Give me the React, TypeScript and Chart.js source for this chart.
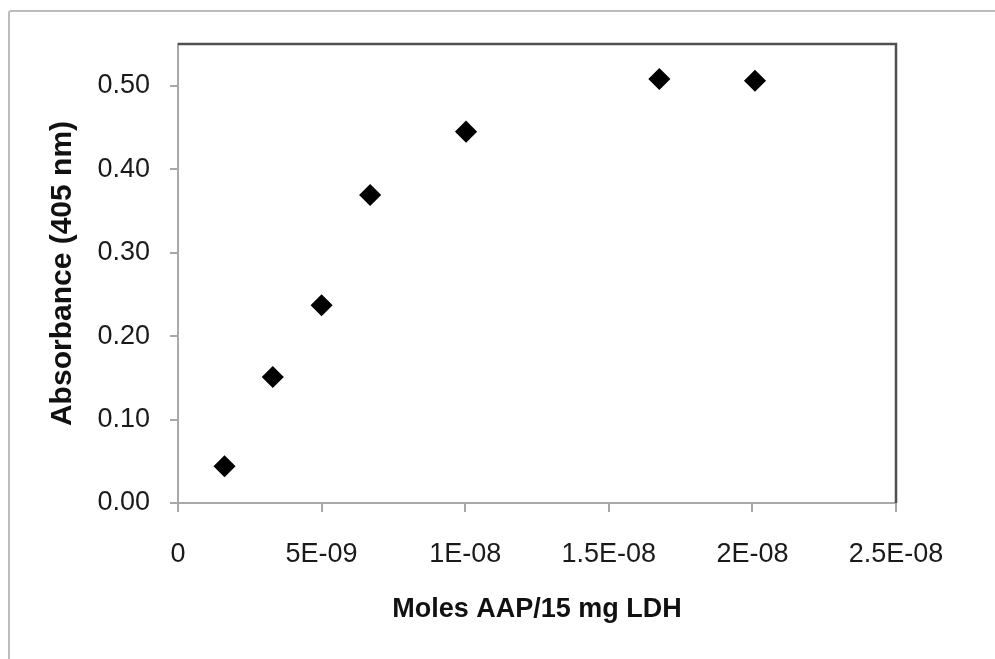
import React, { useEffect, useRef } from "react";
import { Chart, registerables } from "chart.js";

Chart.register(...registerables);

const molesAAP = [1.62e-9, 3.3e-9, 5.0e-9, 6.69e-9, 1.003e-8, 1.676e-8, 2.009e-8];
const absorbance = [0.044, 0.151, 0.237, 0.369, 0.445, 0.508, 0.506];
const xTickValues = [0, 5e-9, 1e-8, 1.5e-8, 2e-8, 2.5e-8];
const xTickLabels = ["0", "5E-09", "1E-08", "1.5E-08", "2E-08", "2.5E-08"];
const yTickValues = [0, 0.1, 0.2, 0.3, 0.4, 0.5];
const yTickLabels = ["0.00", "0.10", "0.20", "0.30", "0.40", "0.50"];

const FONT = "'Liberation Sans', Arial, Helvetica, sans-serif";

const framePlugin = {
  id: "framePlugin",
  beforeDraw(chart: any) {
    const ctx = chart.ctx;
    ctx.save();
    ctx.strokeStyle = "#bdbdbd";
    ctx.lineWidth = 2;
    ctx.beginPath();
    ctx.moveTo(9, 680);
    ctx.lineTo(9, 13);
    ctx.quadraticCurveTo(9, 11, 11, 11);
    ctx.lineTo(1000, 11);
    ctx.stroke();
    ctx.restore();
  },
  afterDraw(chart: any) {
    const { ctx, chartArea } = chart;
    ctx.save();
    ctx.strokeStyle = "#505050";
    ctx.lineWidth = 2.5;
    ctx.beginPath();
    ctx.moveTo(chartArea.left, chartArea.top);
    ctx.lineTo(chartArea.right, chartArea.top);
    ctx.lineTo(chartArea.right, chartArea.bottom);
    ctx.stroke();
    ctx.restore();
  },
};

export default function App() {
  const ref = useRef<HTMLCanvasElement>(null);

  useEffect(() => {
    if (!ref.current) return;
    const chart = new Chart(ref.current, {
      type: "scatter",
      data: {
        datasets: [
          {
            data: molesAAP.map((x, i) => ({ x, y: absorbance[i] })),
            pointStyle: "rectRot",
            pointRadius: 10,
            pointHoverRadius: 10,
            backgroundColor: "#000",
            borderColor: "#000",
            borderWidth: 1.5,
          },
        ],
      },
      options: {
        animation: false,
        responsive: false,
        devicePixelRatio: 1,
        layout: { padding: { top: 44, right: 99, left: 0, bottom: 0 } },
        plugins: { legend: { display: false }, tooltip: { enabled: false } },
        scales: {
          x: {
            type: "linear",
            min: 0,
            max: 2.5e-8,
            afterBuildTicks: (axis: any) => {
              axis.ticks = xTickValues.map((v) => ({ value: v }));
            },
            afterFit: (axis: any) => {
              axis.height = 156;
            },
            ticks: {
              autoSkip: false,
              maxRotation: 0,
              padding: 26,
              color: "#1a1a1a",
              font: { family: FONT, size: 27 },
              callback: (_v: any, i: number) => xTickLabels[i],
            },
            grid: {
              drawOnChartArea: false,
              drawTicks: true,
              tickLength: 9,
              color: "#a8a8a8",
              lineWidth: 2,
            },
            border: { display: true, color: "#a8a8a8", width: 2 },
            title: {
              display: true,
              text: "Moles AAP/15 mg LDH",
              color: "#111",
              font: { family: FONT, size: 27, weight: "bold", lineHeight: 1 },
              padding: { top: 0, bottom: 36 },
            },
          },
          y: {
            type: "linear",
            min: 0,
            max: 0.55,
            afterBuildTicks: (axis: any) => {
              axis.ticks = yTickValues.map((v) => ({ value: v }));
            },
            afterFit: (axis: any) => {
              axis.width = 178;
            },
            ticks: {
              padding: 20,
              color: "#1a1a1a",
              font: { family: FONT, size: 27 },
              callback: (_v: any, i: number) => yTickLabels[i],
            },
            grid: {
              drawOnChartArea: false,
              drawTicks: true,
              tickLength: 8,
              color: "#a8a8a8",
              lineWidth: 2,
            },
            border: { display: true, color: "#a8a8a8", width: 2 },
            title: {
              display: true,
              text: "Absorbance (405 nm)",
              color: "#111",
              font: { family: FONT, size: 30, weight: "bold", lineHeight: 1 },
              padding: { top: 48, bottom: 0 },
            },
          },
        },
      },
      plugins: [framePlugin],
    });
    return () => chart.destroy();
  }, []);

  return (
    <div style={{ position: "absolute", left: 0, top: 0, width: 995, height: 659, background: "#fff" }}>
      <canvas ref={ref} width={995} height={659} style={{ width: 995, height: 659, display: "block" }} />
    </div>
  );
}
